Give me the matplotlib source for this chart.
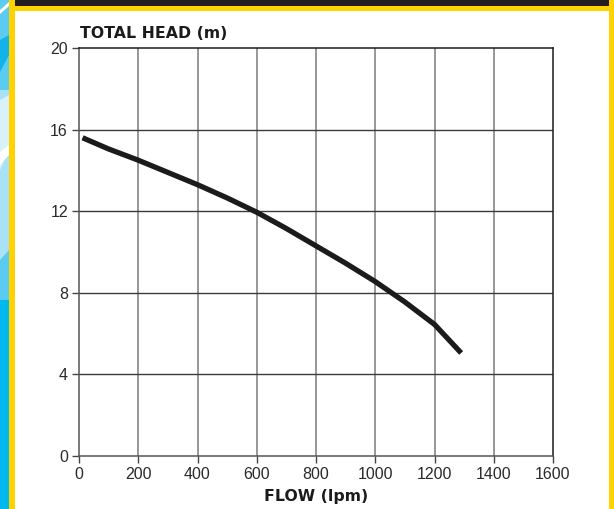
import matplotlib
matplotlib.use("Agg")
import matplotlib.pyplot as plt
from matplotlib.patches import Polygon

# pump curve
flow = [12, 100, 200, 300, 400, 500, 600, 700, 800, 900, 1000, 1100, 1200, 1290]
head = [15.6, 15.05, 14.5, 13.9, 13.3, 12.65, 11.95, 11.15, 10.3, 9.45, 8.55, 7.55, 6.45, 5.05]

xticks = [0, 200, 400, 600, 800, 1000, 1200, 1400, 1600]
yticks = [0, 4, 8, 12, 16, 20]

W, H = 614, 509
fig = plt.figure(figsize=(W / 100, H / 100), dpi=100)
fig.patch.set_facecolor("white")
plt.rcParams["font.family"] = ["Liberation Sans", "DejaVu Sans"]


def poly(pts, color, z=0):
    # pts in pixels, origin top-left
    p = Polygon([(x / W, 1 - y / H) for x, y in pts], closed=True,
                transform=fig.transFigure, facecolor=color, edgecolor="none", zorder=z)
    fig.add_artist(p)


# frame decoration
poly([(0, 0), (9, 0), (9, H), (0, H)], "#00b8ee")
poly([(0, 0), (9, 0), (9, 300), (0, 300)], "#5ccbf2")
poly([(0, 90), (9, 90), (9, 250), (0, 260)], "#a9e1f7")
poly([(0, 100), (9, 95), (9, 150), (0, 170)], "#d9f1fb")
poly([(0, 40), (9, 35), (9, 55), (0, 72)], "#12b2ea")
poly([(0, 10), (9, 2), (9, 6), (0, 14)], "white")
poly([(0, 152), (9, 145), (9, 155), (0, 165)], "white")
poly([(9, 0), (15, 0), (15, H), (9, H)], "#ffd200")
poly([(609, 0), (W, 0), (W, H), (609, H)], "#ffd200")
poly([(15, 6), (609, 6), (609, 11), (15, 11)], "#ffd200")
poly([(15, 0), (609, 0), (609, 6), (15, 6)], "#231f20")

ax = fig.add_axes([79 / W, (H - 456) / H, (553 - 79) / W, (456 - 48) / H])
ax.set_xlim(0, 1600)
ax.set_ylim(0, 20)
ax.set_xticks(xticks)
ax.set_yticks(yticks)

for v in xticks[1:-1]:
    ax.axvline(v, color="#858585", lw=1.2, zorder=1)
for v in yticks[1:-1]:
    ax.axhline(v, color="#3a3a3a", lw=1.0, zorder=1)

ax.plot(flow, head, color="#1b1b1b", lw=3.8, solid_capstyle="butt", zorder=3)

for s in ["left", "bottom"]:
    ax.spines[s].set_color("#555555")
    ax.spines[s].set_linewidth(1.1)
for s in ["top", "right"]:
    ax.spines[s].set_color("#1b1b1b")
    ax.spines[s].set_linewidth(1.1)

ax.tick_params(direction="out", length=5, width=1, color="#444444",
               labelsize=11.5, labelcolor="#2a2a2a", pad=3)

fig.text(80 / W, 1 - 38.5 / H, "TOTAL HEAD (m)", fontsize=11.3, fontweight="bold",
         family="DejaVu Sans", color="#1b1b1b", ha="left", va="baseline")
fig.text(316 / W, 1 - 501 / H, "FLOW (lpm)", fontsize=11.3, fontweight="bold",
         family="DejaVu Sans", color="#1b1b1b", ha="center", va="baseline")

fig.savefig("out.png", dpi=100)
